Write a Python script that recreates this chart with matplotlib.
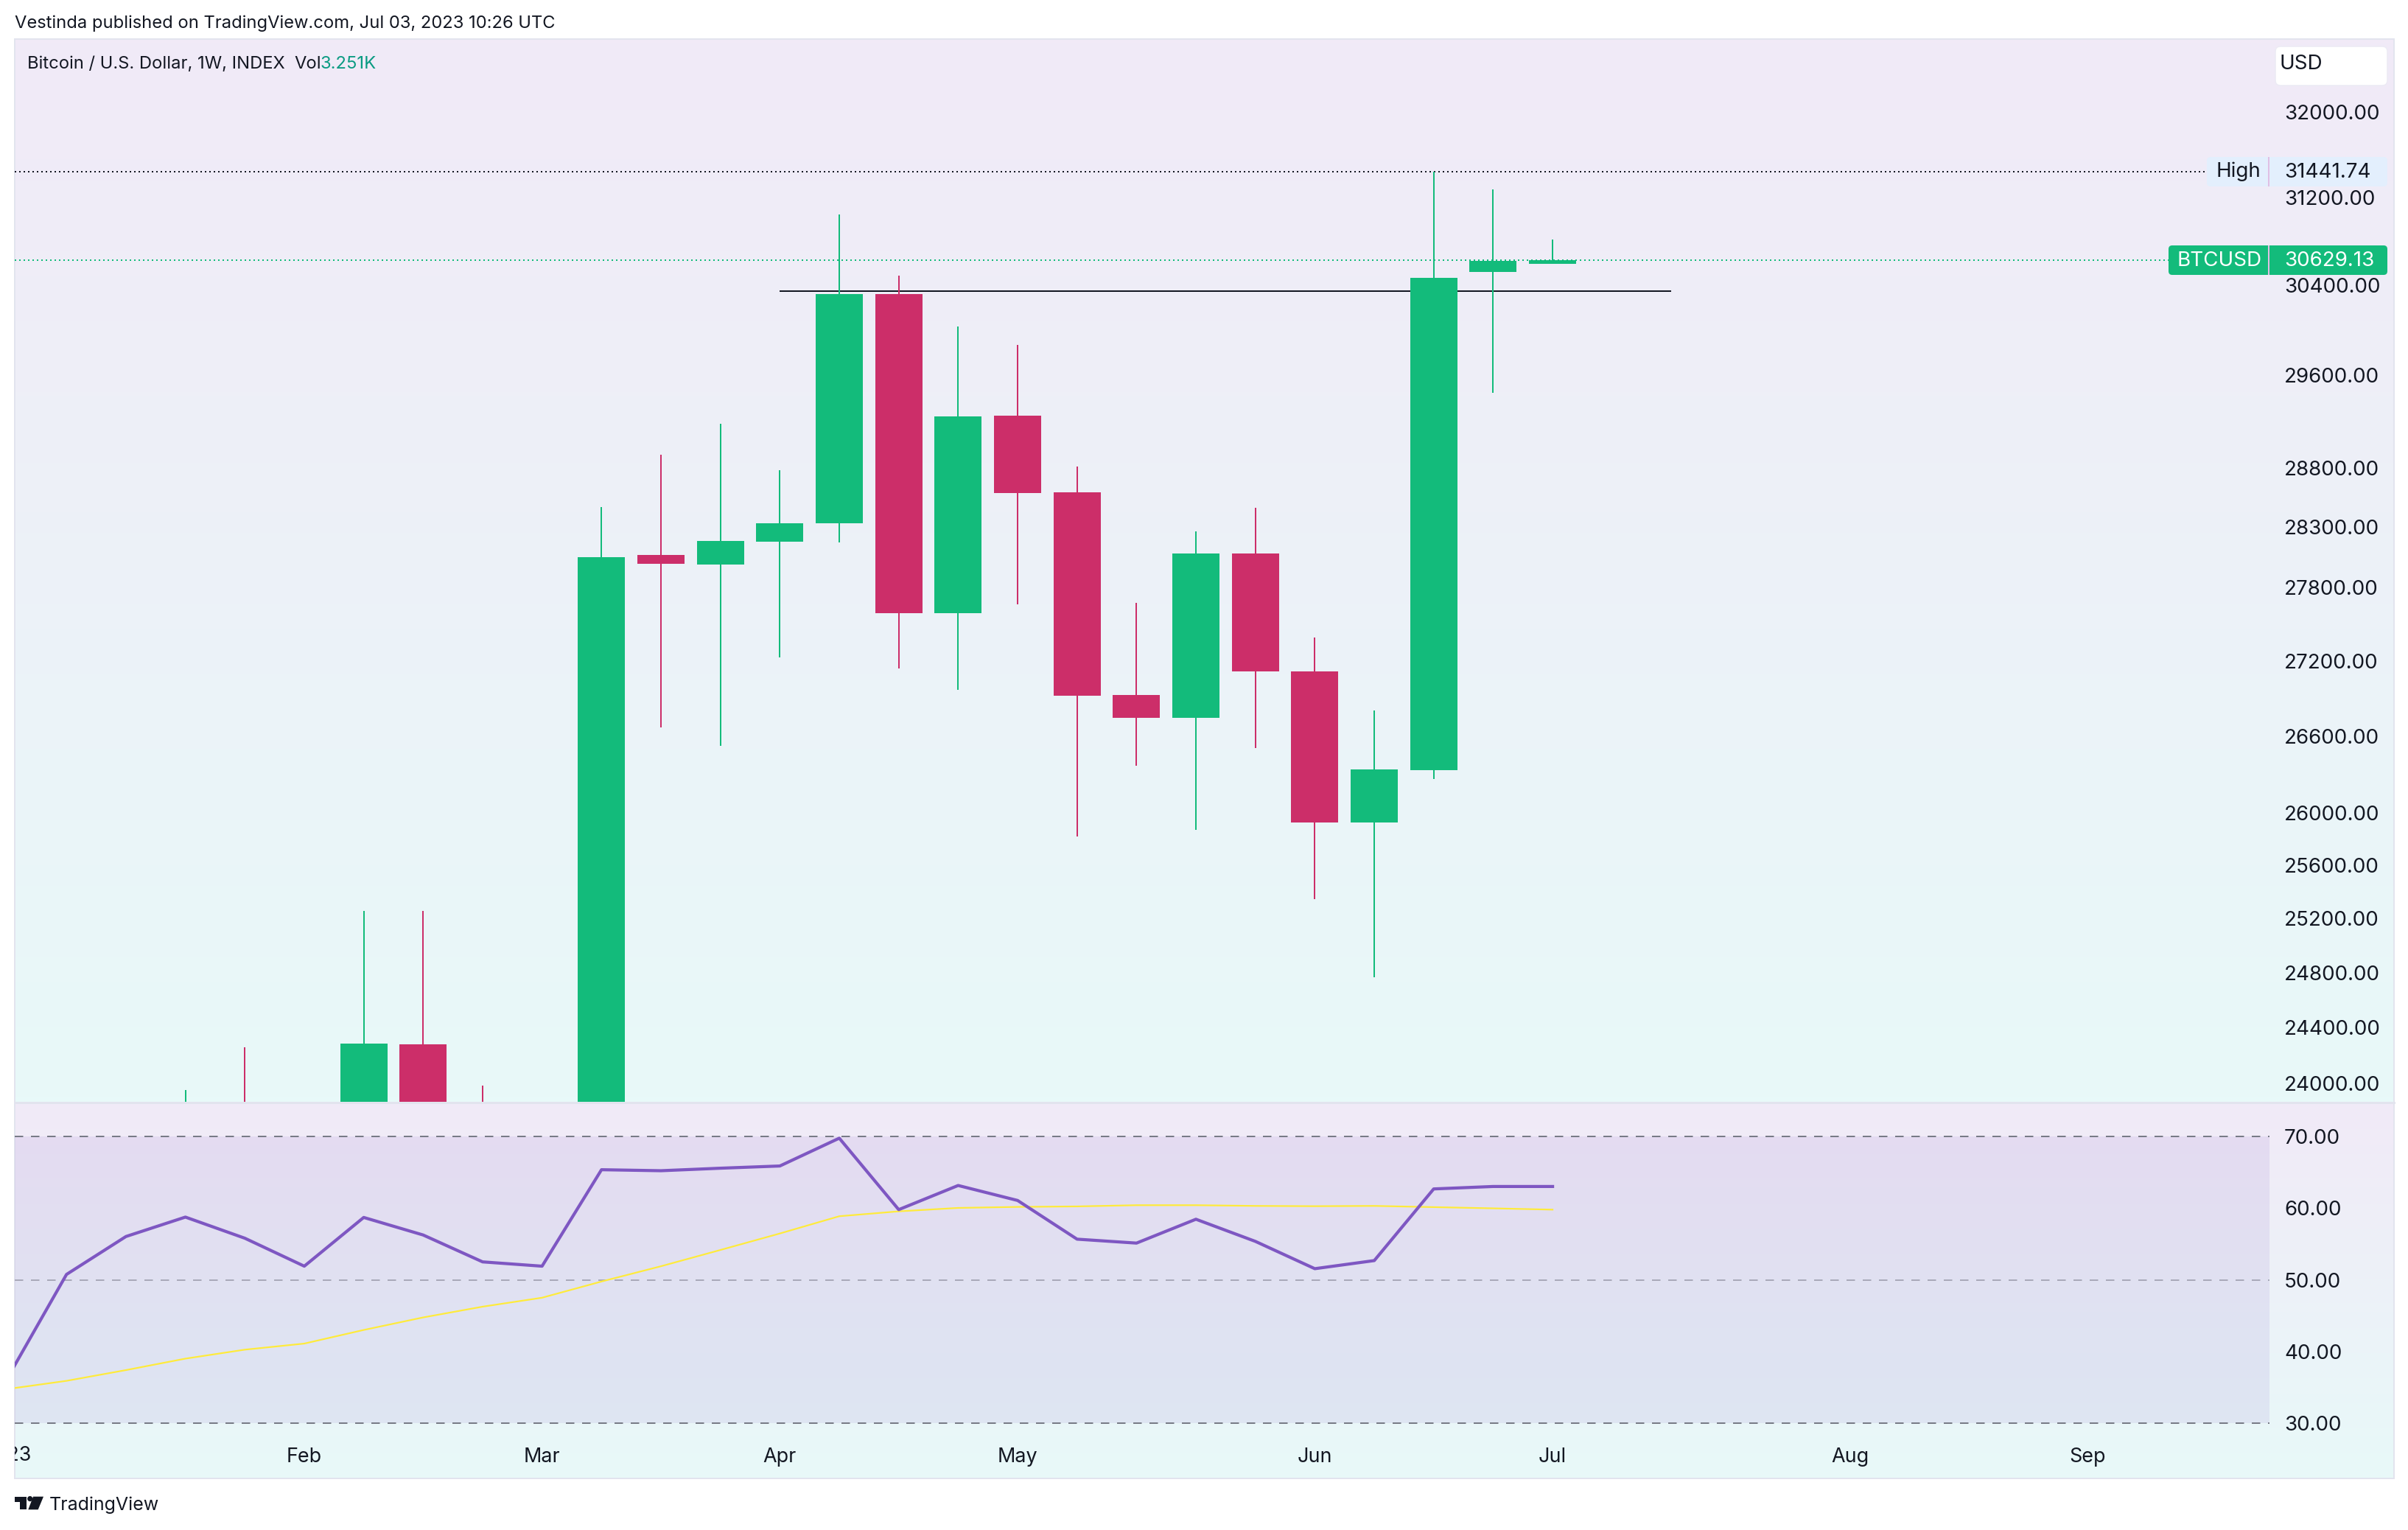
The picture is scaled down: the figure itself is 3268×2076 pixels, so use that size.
"""BTCUSD weekly candles with RSI pane, TradingView look."""
import matplotlib
matplotlib.use("Agg")
import matplotlib.pyplot as plt
import numpy as np
from matplotlib.patches import FancyBboxPatch, Rectangle, Polygon, Circle
from matplotlib.ticker import NullLocator
from matplotlib.transforms import Bbox

matplotlib.rcParams["font.family"] = "Inter"

# week index 0 = Jan 2 2023; bars below the visible range are rough estimates
opens = [16550, 16900, 20900, 22700, 23100, 22950, 21850, 24279, 23200, 22400,
         20600, 28067, 27987, 28178, 28332, 30323, 27587, 29250, 28593, 26927,
         26745, 28079, 27116, 25928, 26333, 30522, 30595]
highs = [17400, 21200, 23300, 23953, 24258, 23200, 25258, 25258, 23984, 22600,
         28468, 28913, 29179, 28781, 31046, 30489, 30033, 29869, 28812, 27672,
         28264, 28462, 27389, 26803, 31441.74, 31277, 30816]
lows = [16500, 16900, 20400, 22300, 22500, 21400, 21500, 22800, 21900, 19600,
        20400, 26669, 26524, 27228, 28172, 27139, 26968, 27660, 25821, 26368,
        25872, 26507, 25346, 24766, 26265, 29448, 30595]
closes = [16900, 20900, 22700, 23000, 22950, 21850, 24284, 23200, 22400, 20600,
          28049, 27994, 28184, 28332, 30323, 27587, 29243, 28587, 26921, 26745,
          28079, 27116, 25928, 26339, 30469, 30622, 30629.13]

rsi = [36.2, 50.75, 56.04, 58.75, 55.8, 51.9, 58.7, 56.25, 52.5, 51.9, 65.36,
       65.22, 65.57, 65.88, 69.76, 59.79, 63.16, 61.07, 55.67, 55.12, 58.45,
       55.36, 51.55, 52.68, 62.68, 63.02, 63.02]
rsi_ma = [34.75, 35.9, 37.4, 39.0, 40.25, 41.1, 43.0, 44.75, 46.25, 47.5, 49.76,
          51.89, 54.16, 56.46, 58.87, 59.55, 60.03, 60.17, 60.24, 60.41, 60.41,
          60.31, 60.27, 60.31, 60.14, 59.97, 59.79]

price_ticks = [32000, 31200, 30400, 29600, 28800, 28300, 27800, 27200, 26600,
               26000, 25600, 25200, 24800, 24400, 24000]
rsi_ticks = [70, 60, 50, 40, 30]
month_pos = [5, 9, 13, 17, 22, 26, 31, 35]
month_labels = ["Feb", "Mar", "Apr", "May", "Jun", "Jul", "Aug", "Sep"]
year_pos = 0
year_label = "2023"

HIGH = 31441.74
LAST = 30629.13
RESIST = 30349
RESIST_START, RESIST_END = 13, 28

GREEN = "#13BB7B"
RED = "#CC2E69"
INK = "#131722"
BORDER = "#E2E4EE"
PX = 0.72  # points per pixel at dpi 100
FS = 20
FS_X = 19.4

W, H = 3268, 2076
XLIM = (0.129, 38.06)
fig = plt.figure(figsize=(W / 100, H / 100), dpi=100, facecolor="white")


def rect(left, top, right, bottom):
    return [left / W, 1 - bottom / H, (right - left) / W, (bottom - top) / H]


# chrome layer in pixel coordinates
bg = fig.add_axes([0, 0, 1, 1])
grad = np.linspace(0, 1, 256)[:, None, None]
top_col = np.array([241, 234, 247]) / 255
bot_col = np.array([232, 249, 249]) / 255
grad_img = top_col * (1 - grad) + bot_col * grad
bg.imshow(grad_img, extent=(20, 3249, 1495, 53), aspect="auto", zorder=0)
bg.imshow(grad_img, extent=(20, 3249, 2006, 1497), aspect="auto", zorder=0)
bg.set_xlim(0, W)
bg.set_ylim(H, 0)
bg.axis("off")
bg.add_patch(Rectangle((20, 53), 3229, 1953, fill=False, ec=BORDER, lw=2 * PX, zorder=1))
bg.plot([20, 3249], [1496, 1496], color=BORDER, lw=3 * PX, zorder=1)

bg.text(20, 32, "Vestinda published on TradingView.com, Jul 03, 2023 10:26 UTC",
        color=INK, fontsize=17.1, va="center")
bg.text(37, 87, "Bitcoin / U.S. Dollar, 1W, INDEX", color=INK, fontsize=17.1, va="center")
bg.text(399, 87, "Vol", color=INK, fontsize=17.1, va="center")
bg.text(435, 87, "3.251K", color="#0A9B82", fontsize=17.1, va="center")

bg.add_patch(FancyBboxPatch((3088, 63), 152, 53, boxstyle="round,pad=0,rounding_size=7",
                            fc="white", ec="#ECEAF4", lw=1.5 * PX, zorder=2))
bg.text(3094, 87, "USD", color=INK, fontsize=FS, va="center", zorder=3)

# last price and high tags
bg.add_patch(FancyBboxPatch((2995, 213), 245, 40, boxstyle="round,pad=0,rounding_size=5",
                            fc="#E3EFFD", ec="none", zorder=2))
bg.add_patch(Rectangle((3078, 213), 2.5, 40, fc="#E0BFE4", ec="none", zorder=3))
bg.text(3008, 233, "High", color=INK, fontsize=FS, va="center", zorder=3)
bg.text(3100, 234, f"{HIGH:.2f}", color=INK, fontsize=FS, va="center", zorder=3)

bg.add_patch(FancyBboxPatch((2943, 333), 297, 40, boxstyle="round,pad=0,rounding_size=5",
                            fc=GREEN, ec="none", zorder=2))
bg.add_patch(Rectangle((3078, 333), 2.5, 40, fc="#E0BFE4", ec="none", zorder=3))
bg.text(2955, 354, "BTCUSD", color="white", fontsize=FS, va="center", zorder=3)
bg.text(3100, 354, f"{LAST:.2f}", color="white", fontsize=FS, va="center", zorder=3)

# TradingView mark
bg.add_patch(Polygon([(20, 2030.7), (35.7, 2030.7), (35.7, 2048.3), (27.3, 2048.3),
                      (27.3, 2037.7), (20, 2037.7)], fc=INK, ec="none"))
bg.add_patch(Circle((40.7, 2033.6), 3.6, fc=INK, ec="none"))
bg.add_patch(Polygon([(45, 2030.7), (59, 2030.7), (51.7, 2048.3), (38.3, 2048.3)],
                     fc=INK, ec="none"))
bg.text(67, 2042, "TradingView", color=INK, fontsize=18, va="center")

# price pane
x = np.arange(len(closes))
ax = fig.add_axes(rect(20, 53, 3080, 1495))
ax.patch.set_visible(False)
ax.set_yscale("log")

colors = [GREEN if c >= o else RED for o, c in zip(opens, closes)]
ax.hlines(HIGH, XLIM[0], 36.97, color=INK, lw=2 * PX, linestyles=[(0, (1, 2))], zorder=1)
ax.hlines(LAST, XLIM[0], 36.36, color=GREEN, lw=2 * PX, linestyles=[(0, (1, 2))], zorder=1)
ax.hlines(RESIST, RESIST_START, RESIST_END, color=INK, lw=2 * PX, zorder=1.5)
ax.vlines(x, lows, highs, colors=colors, lw=2 * PX, zorder=2)
ax.bar(x, np.abs(np.array(closes) - np.array(opens)),
       bottom=np.minimum(opens, closes), width=0.793, color=colors, lw=0, zorder=3)

ax.yaxis.tick_right()
ax.set_yticks(price_ticks)
ax.set_yticklabels([f"{v:.2f}" for v in price_ticks])
ax.yaxis.set_minor_locator(NullLocator())
ax.tick_params(axis="y", length=0, pad=20 * PX, labelsize=FS, labelcolor=INK)
ax.set_xticks([])
ax.set_xlim(*XLIM)
ax.set_ylim(23869, 32702)
for lbl in ax.get_yticklabels():
    lbl.set_verticalalignment("center_baseline")
for s in ax.spines.values():
    s.set_visible(False)

# rsi pane
ax2 = fig.add_axes(rect(20, 1497, 3080, 1955))
ax2.patch.set_visible(False)
ax2.axhspan(30, 70, color="#7E57C2", alpha=0.1, lw=0, zorder=1)
dash = (0, (5.75, 5.25))
ax2.axhline(70, color="#787B86", lw=2 * PX, linestyle=dash, zorder=2)
ax2.axhline(50, color="#A9A9B9", lw=2 * PX, linestyle=dash, zorder=2)
ax2.axhline(30, color="#787B86", lw=2 * PX, linestyle=dash, zorder=2)
ax2.plot(x, rsi_ma, color="#FFEB3B", lw=2.2 * PX, zorder=3)
ax2.plot(x, rsi, color="#7E57C2", lw=4.2 * PX, zorder=4)

ax2.yaxis.tick_right()
ax2.set_yticks(rsi_ticks)
ax2.set_yticklabels([f"{v:.2f}" for v in rsi_ticks])
ax2.tick_params(axis="y", length=0, pad=20 * PX, labelsize=FS, labelcolor=INK)
ax2.set_xticks(month_pos)
ax2.set_xticklabels(month_labels)
ax2.tick_params(axis="x", length=0, pad=9 * PX, labelsize=FS_X, labelcolor=INK)
ax2.set_xlim(*XLIM)
ax2.set_ylim(27.53, 74.63)
for s in ax2.spines.values():
    s.set_visible(False)
for lbl in ax2.get_yticklabels():
    lbl.set_verticalalignment("center_baseline")

# the year label runs off the left edge of the panel
year_txt = ax2.text(year_pos, -0.0437, year_label, transform=ax2.get_xaxis_transform(),
                    ha="center", va="center", color=INK, fontsize=FS_X)
year_txt.set_clip_on(True)
year_txt.set_clip_box(Bbox.from_extents(20, 0, W, H))

fig.savefig("out.png", dpi=100, facecolor="white")
